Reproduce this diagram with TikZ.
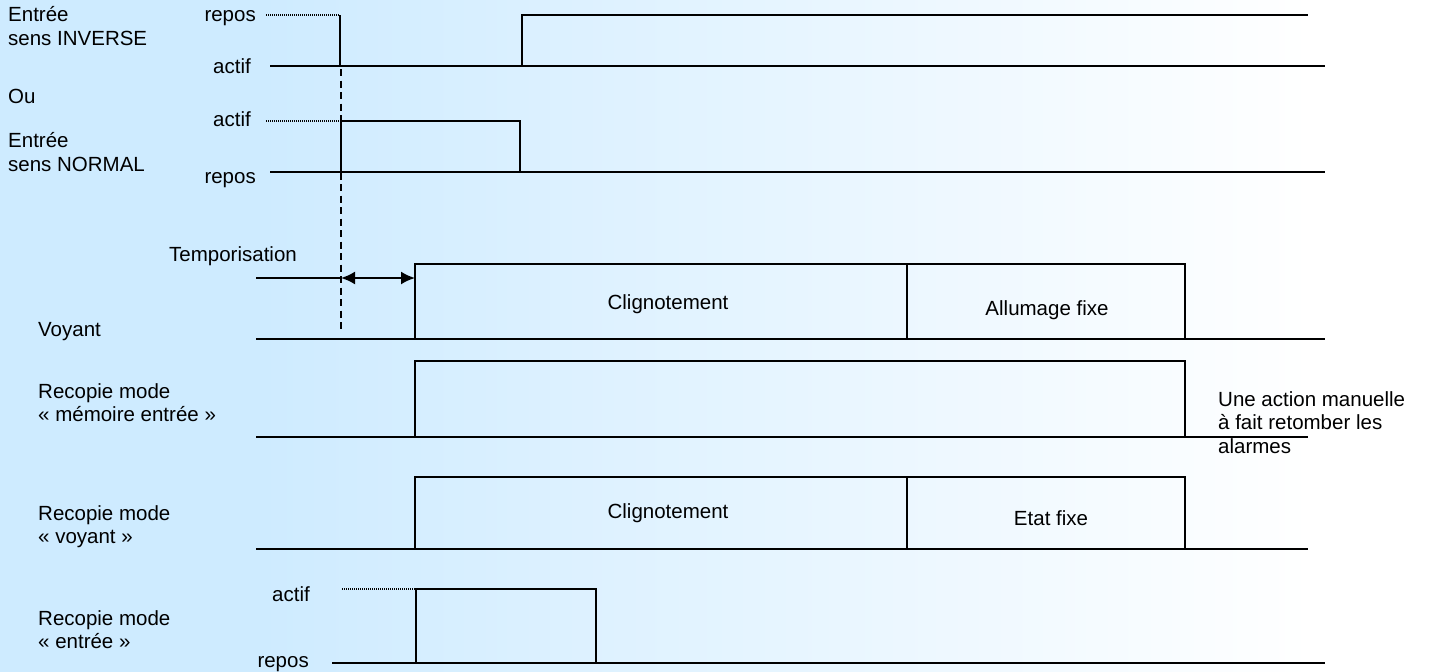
\documentclass[tikz,border=0pt]{standalone}
\usepackage{fontspec}
\setmainfont{Liberation Sans}
\usetikzlibrary{arrows.meta}
\definecolor{bgblue}{RGB}{206,235,255}
\begin{document}
\begin{tikzpicture}[x=1pt,y=-1pt,
  txt/.style={font=\fontsize{20.5}{23.5}\selectfont, inner sep=0pt, align=left, anchor=base west},
  rlbl/.style={font=\fontsize{20.5}{23.5}\selectfont, inner sep=0pt, anchor=base east},
  ctext/.style={font=\fontsize{20.5}{23.5}\selectfont, inner sep=0pt, anchor=base},
  sig/.style={line width=2.2pt, line join=miter},
  base/.style={line width=1.5pt},
  dotln/.style={line width=1.1pt, dash pattern=on 1pt off 1pt},
  vdash/.style={line width=1.6pt, dash pattern=on 7pt off 4.5pt}]
\useasboundingbox (0,0) rectangle (1430,672);
\fill[bgblue] (0,0) rectangle (261,672);
\shade[left color=bgblue, right color=white] (260,0) rectangle (1311,672);
\fill[white] (1310,0) rectangle (1430,672);

% left labels (anchor = baseline of the last line)
\node[txt] (l1) at (8,45) {Entrée\\sens INVERSE};
\node[txt] (l2) at (8,103) {Ou};
\node[txt] (l3) at (8,171) {Entrée\\sens NORMAL};
\node[txt] (l4) at (38,336) {Voyant};
\node[txt] (l5) at (38,421.5) {Recopie mode\\« mémoire entrée »};
\node[txt] (l6) at (38,543.5) {Recopie mode\\« voyant »};
\node[txt] (l7) at (38,648.5) {Recopie mode\\« entrée »};
\node[txt] (tempo) at (169,261) {Temporisation};
\node[txt] (note) at (1218,453) {Une action manuelle\\à fait retomber les\\alarmes};

% level labels
\node[rlbl] (r1) at (256,21) {repos};
\node[rlbl] (a1) at (251,73) {actif};
\node[rlbl] (a2) at (251,126) {actif};
\node[rlbl] (r2) at (256,183) {repos};
\node[rlbl] (a3) at (310,601) {actif};
\node[rlbl] (r3) at (309,667) {repos};

% row 1 : entree sens inverse
\draw[base] (270,66) -- (1325,66);
\draw[dotln] (266,15) -- (340,15);
\draw[sig] (340,15) -- (340,66) -- (1308,66);
\draw[sig] (522,66) -- (522,15) -- (1308,15);

% row 2 : entree sens normal
\draw[base] (270,172) -- (1325,172);
\draw[dotln] (266,121) -- (341,121);
\draw[sig] (341,121) rectangle (520,172);

% dashed time marker
\draw[vdash] (341,69) -- (341,332);

% temporisation
\coordinate (t0) at (341,278);
\coordinate (t1) at (415,278);
\draw[base] (256,278) -- (t0);
\draw[line width=2pt, {Latex[length=14pt,width=13pt]}-{Latex[length=14pt,width=13pt]}] (t0) -- (t1);

% voyant
\draw[base] (256,339) -- (1325,339);
\draw[sig] (415,264) rectangle (1185,339);
\draw[sig] (907,264) -- (907,339);
\node[ctext] (c1) at (668,309) {Clignotement};
\node[ctext] (f1) at (1047,315) {Allumage fixe};

% recopie memoire entree
\draw[base] (256,437) -- (1308,437);
\draw[sig] (415,361) rectangle (1185,437);

% recopie voyant
\draw[base] (256,549) -- (1308,549);
\draw[sig] (415,477) rectangle (1185,549);
\draw[sig] (907,477) -- (907,549);
\node[ctext] (c2) at (668,518) {Clignotement};
\node[ctext] (f2) at (1051,525) {Etat fixe};

% recopie entree
\draw[base] (332,663) -- (1325,663);
\draw[dotln] (342,589) -- (416,589);
\draw[sig] (416,589) rectangle (596,663);
\end{tikzpicture}
\end{document}
